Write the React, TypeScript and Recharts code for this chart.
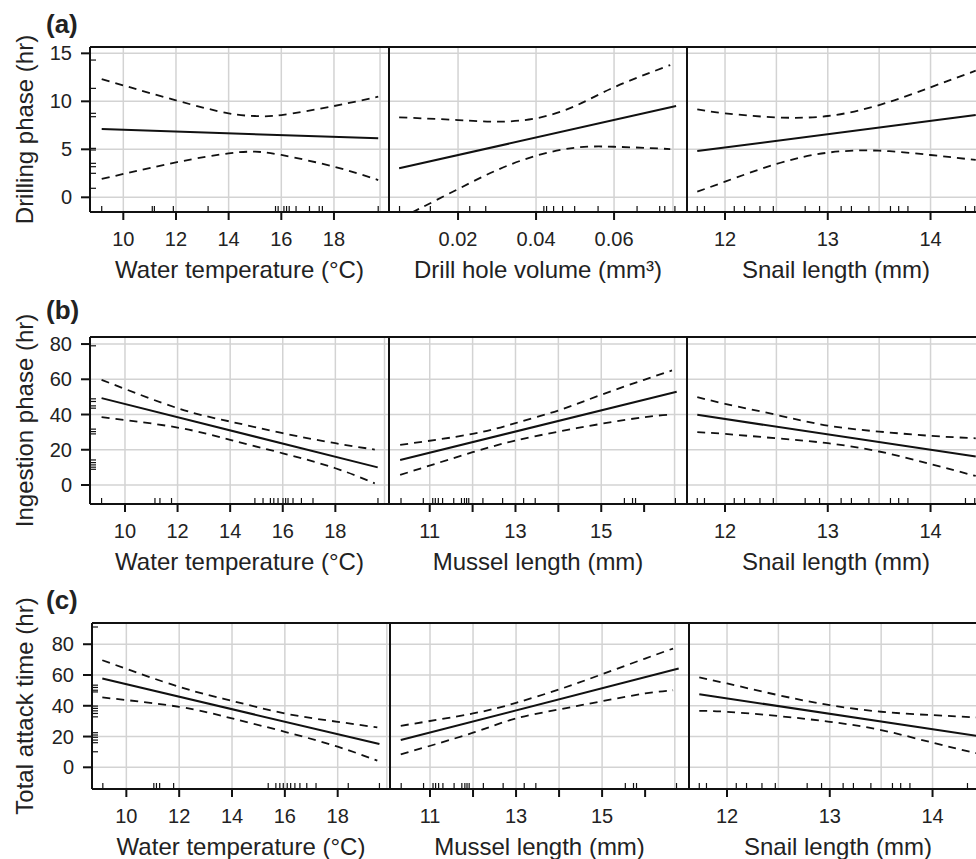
import { ComposedChart, Line, Scatter, XAxis, YAxis, CartesianGrid } from 'recharts';

const INK = '#111';
const TEXT = '#222';
const GRID = '#d3d3d3';
const FONT = '"Liberation Sans", Arial, Helvetica, sans-serif';

type Pair = [number, number];

// ---- (a) drilling phase ----
const drillTempFit: Pair[] = [[9.18, 7.11], [19.68, 6.15]];
const drillTempUpper: Pair[] = [[9.18, 12.32], [12, 10.1], [14, 8.75], [15, 8.47], [16, 8.57], [18, 9.51], [19.68, 10.48]];
const drillTempLower: Pair[] = [[9.18, 1.91], [12, 3.64], [14, 4.58], [15, 4.75], [16, 4.41], [18, 3.19], [19.68, 1.8]];

const drillVolFit: Pair[] = [[0.0049, 3.02], [0.0759, 9.51]];
const drillVolUpper: Pair[] = [[0.0049, 8.33], [0.02, 8.05], [0.03, 7.88], [0.04, 8.23], [0.05, 9.51], [0.06, 11.46], [0.0744, 13.78]];
const drillVolLower: Pair[] = [[0.0049, -2.26], [0.02, 0.86], [0.03, 2.84], [0.04, 4.33], [0.05, 5.17], [0.06, 5.27], [0.0744, 5.03]];

const drillSnailFit: Pair[] = [[11.73, 4.82], [14.44, 8.57]];
const drillSnailUpper: Pair[] = [[11.73, 9.17], [12, 8.75], [12.5, 8.33], [13, 8.47], [13.5, 9.61], [14, 11.46], [14.44, 13.19]];
const drillSnailLower: Pair[] = [[11.73, 0.59], [12, 1.63], [12.5, 3.47], [13, 4.65], [13.5, 4.86], [14, 4.41], [14.44, 3.89]];

// ---- (b) ingestion phase ----
const ingestTempFit: Pair[] = [[9.11, 49.3], [19.61, 10.0]];
const ingestTempUpper: Pair[] = [[9.11, 59.7], [12, 43.6], [14, 36.0], [16, 29.4], [18, 23.7], [19.5, 20.1]];
const ingestTempLower: Pair[] = [[9.11, 38.5], [12, 32.6], [14, 25.6], [16, 18.0], [18, 9.5], [19.5, 0.95]];

const ingestMusselFit: Pair[] = [[10.31, 14.2], [16.76, 52.9]];
const ingestMusselUpper: Pair[] = [[10.31, 22.75], [12, 29.0], [13, 35.1], [14, 42.3], [15, 51.2], [16, 59.7], [16.65, 65.0]];
const ingestMusselLower: Pair[] = [[10.31, 5.7], [12, 18.6], [13, 25.2], [14, 30.3], [15, 34.7], [16, 38.5], [16.65, 40.0]];

const ingestSnailFit: Pair[] = [[11.73, 39.8], [14.44, 16.1]];
const ingestSnailUpper: Pair[] = [[11.73, 49.9], [12, 46.1], [12.5, 39.8], [13, 33.7], [13.5, 30.3], [14, 27.9], [14.44, 26.5]];
const ingestSnailLower: Pair[] = [[11.73, 30.0], [12, 29.0], [12.5, 26.5], [13, 23.7], [13.5, 19.0], [14, 11.9], [14.44, 5.1]];

// ---- (c) total attack time ----
const totalTempFit: Pair[] = [[9.09, 57.7], [19.58, 15.1]];
const totalTempUpper: Pair[] = [[9.09, 69.6], [12, 52.3], [14, 43.2], [16, 35.0], [18, 29.6], [19.5, 25.9]];
const totalTempLower: Pair[] = [[9.09, 45.4], [12, 39.3], [14, 31.8], [16, 23.1], [18, 13.4], [19.5, 4.3]];

const totalMusselFit: Pair[] = [[10.32, 17.7], [16.78, 64.2]];
const totalMusselUpper: Pair[] = [[10.32, 27.0], [12, 35.0], [13, 41.9], [14, 50.6], [15, 60.5], [16, 70.7], [16.65, 77.2]];
const totalMusselLower: Pair[] = [[10.32, 8.4], [12, 22.5], [13, 31.8], [14, 37.6], [15, 43.0], [16, 48.0], [16.65, 50.1]];

const totalSnailFit: Pair[] = [[11.73, 47.5], [14.43, 20.5]];
const totalSnailUpper: Pair[] = [[11.73, 58.4], [12, 54.5], [12.5, 46.9], [13, 40.4], [13.5, 36.1], [14, 33.9], [14.43, 32.4]];
const totalSnailLower: Pair[] = [[11.73, 36.7], [12, 36.1], [12.5, 33.3], [13, 29.6], [13.5, 24.2], [14, 16.0], [14.43, 9.1]];

// ---- rugs (observed values) ----
const tempRugA = [9.18, 11.1, 11.18, 11.9, 13.22, 15.78, 15.88, 16.1, 16.2, 16.3, 16.56, 17.07, 17.44, 17.56, 19.68];
const tempRugB = [9.11, 11.14, 11.33, 11.77, 14.94, 15.25, 15.53, 15.66, 15.82, 16.01, 16.11, 16.2, 16.39, 16.71, 17.15, 19.62];
const tempRugC = [9.11, 11.04, 11.14, 11.26, 11.79, 15.37, 15.66, 15.81, 15.94, 16.09, 16.22, 16.38, 16.57, 16.83, 17.18, 18.4, 19.58];
const volRug = [0.0050, 0.0129, 0.0230, 0.0271, 0.0420, 0.0427, 0.0445, 0.0468, 0.0499, 0.0559, 0.0659, 0.0717, 0.0730, 0.0756];
const musselRug = [10.33, 10.85, 11.07, 11.13, 11.2, 11.3, 11.56, 11.74, 11.81, 11.86, 11.91, 12.24, 12.7, 13.19, 13.46, 15.54, 15.73, 15.8, 16.73];
const snailRug = [11.73, 11.8, 12.09, 12.19, 12.34, 12.47, 12.78, 12.92, 13.13, 13.23, 13.4, 13.61, 13.69, 13.78, 14.34, 14.43];
const drillRug = [14.3, 11.35, 8.75, 8.4, 5.1, 4.93, 3.54, 3.19, 2.5, 0.94];
const ingestRug = [79, 48.9, 47.4, 44.9, 43.6, 31.7, 30.3, 29.0, 14.2, 12.7, 11.4, 10.1, 8.9];
const totalRug = [91.2, 53.4, 51.9, 50.1, 49.0, 39.8, 38.3, 36.7, 35.0, 32.8, 22.5, 21.0, 19.5, 17.7, 16.0, 10.1];

// ---- ticks & grids ----
const tempTicks = [10, 12, 14, 16, 18];
const tempLabels = ['10', '12', '14', '16', '18'];
const volTicks = [0.02, 0.04, 0.06];
const volLabels = ['0.02', '0.04', '0.06'];
const musselTicks = [11, 12, 13, 14, 15, 16];
const musselLabels = ['11', '', '13', '', '15', ''];
const snailTicks = [12, 13, 14];
const snailLabels = ['12', '13', '14'];
const snailGrid = [11.66, 12, 12.5, 13, 13.5, 14];
const drillTicks = [0, 5, 10, 15];
const hourTicks = [0, 20, 40, 60, 80];

const toPts = (p: Pair[]) => p.map(([x, y]) => ({ x, y }));

type PanelSpec = {
  left: number; top: number; w: number; h: number; first: boolean;
  xDomain: [number, number]; yDomain: [number, number];
  xTicks: number[]; xLabels: string[]; xGrid: number[]; yTicks: number[];
  fit: Pair[]; upper: Pair[]; lower: Pair[];
  xRug: number[]; yRug?: number[]; xTitle: string; yTitle?: string;
};

// room above the frame, so the rotated y title and the top tick label are not clipped
const TOP_ROOM = 40;

function Panel(s: PanelSpec) {
  // axes of size 1 px carry the frame lines (size-0 axes are not drawn)
  const yAxisW = s.first ? s.left : 1;
  const mLeft = s.first ? 0 : 1;
  const chartLeft = s.first ? 0 : s.left - 2;
  const width = mLeft + yAxisW + s.w + 2;
  const height = TOP_ROOM + 1 + s.h + 40 + 44;
  const bottomRug = s.xRug.map((x) => ({ x, y: s.yDomain[0] }));
  const leftRug = (s.yRug || []).map((y) => ({ x: s.xDomain[0], y }));
  const frame = { stroke: INK, strokeWidth: 2 };
  return (
    <div style={{ position: 'absolute', left: chartLeft, top: s.top - TOP_ROOM - 1 }}>
      <ComposedChart width={width} height={height} margin={{ top: TOP_ROOM, right: 1, bottom: 44, left: mLeft }}>
        <XAxis
          xAxisId="main" type="number" dataKey="x" domain={s.xDomain} ticks={s.xTicks} allowDataOverflow interval={0}
          tickFormatter={(_v: number, i: number) => s.xLabels[i]}
          height={40} tickSize={8} tickMargin={12}
          tick={{ fontSize: 20, fill: TEXT }} axisLine={frame} tickLine={frame}
          label={{ value: s.xTitle, position: 'bottom', offset: 9, style: { fontSize: 24, fill: TEXT } }}
        />
        <XAxis xAxisId="grid" type="number" dataKey="x" domain={s.xDomain} ticks={s.xGrid} allowDataOverflow hide height={0} />
        <XAxis xAxisId="top" orientation="top" type="number" domain={s.xDomain} allowDataOverflow height={1} tick={false} tickLine={false} axisLine={frame} />
        <YAxis
          yAxisId="main" type="number" dataKey="y" domain={s.yDomain} ticks={s.yTicks} allowDataOverflow interval={0}
          width={yAxisW} tickSize={9} tickMargin={9}
          tick={s.first ? { fontSize: 20, fill: TEXT } : false} tickLine={s.first ? frame : false} axisLine={frame}
          label={s.yTitle ? { value: s.yTitle, angle: -90, position: 'insideLeft', offset: 24, style: { fontSize: 24, fill: TEXT, textAnchor: 'middle' } } : undefined}
        />
        <YAxis yAxisId="grid" type="number" dataKey="y" domain={s.yDomain} ticks={s.yTicks} allowDataOverflow hide width={0} />
        <YAxis yAxisId="right" orientation="right" type="number" domain={s.yDomain} allowDataOverflow width={1} tick={false} tickLine={false} axisLine={frame} />
        <CartesianGrid xAxisId="grid" yAxisId="grid" stroke={GRID} strokeWidth={1.5} />
        <Scatter xAxisId="main" yAxisId="main" data={bottomRug} isAnimationActive={false}
          shape={(p: any) => <line x1={p.cx} x2={p.cx} y1={p.cy} y2={p.cy - 6} stroke={INK} strokeWidth={1.2} />} />
        {leftRug.length > 0 && (
          <Scatter xAxisId="main" yAxisId="main" data={leftRug} isAnimationActive={false}
            shape={(p: any) => <line x1={p.cx} x2={p.cx + 6} y1={p.cy} y2={p.cy} stroke={INK} strokeWidth={1.2} />} />
        )}
        <Line xAxisId="main" yAxisId="main" data={toPts(s.upper)} dataKey="y" type="natural" stroke={INK} strokeWidth={1.8} strokeDasharray="8 6" dot={false} isAnimationActive={false} />
        <Line xAxisId="main" yAxisId="main" data={toPts(s.lower)} dataKey="y" type="natural" stroke={INK} strokeWidth={1.8} strokeDasharray="8 6" dot={false} isAnimationActive={false} />
        <Line xAxisId="main" yAxisId="main" data={toPts(s.fit)} dataKey="y" type="linear" stroke={INK} strokeWidth={2} dot={false} isAnimationActive={false} />
      </ComposedChart>
    </div>
  );
}

const tempTitle = 'Water temperature (\u00B0C)';

const panels: PanelSpec[] = [
  { left: 90, top: 47, w: 299, h: 165, first: true, xDomain: [8.735, 20.09], yDomain: [-1.53, 15.66],
    xTicks: tempTicks, xLabels: tempLabels, xGrid: [10, 12, 14, 16, 18, 19.75], yTicks: drillTicks,
    fit: drillTempFit, upper: drillTempUpper, lower: drillTempLower, xRug: tempRugA, yRug: drillRug,
    xTitle: tempTitle, yTitle: 'Drilling phase (hr)' },
  { left: 389, top: 47, w: 298, h: 165, first: false, xDomain: [0.0023, 0.0787], yDomain: [-1.53, 15.66],
    xTicks: volTicks, xLabels: volLabels, xGrid: [0.02, 0.04, 0.06, 0.0751], yTicks: drillTicks,
    fit: drillVolFit, upper: drillVolUpper, lower: drillVolLower, xRug: volRug, xTitle: 'Drill hole volume (mm\u00B3)' },
  { left: 687, top: 47, w: 298, h: 165, first: false, xDomain: [11.63, 14.53], yDomain: [-1.53, 15.66],
    xTicks: snailTicks, xLabels: snailLabels, xGrid: snailGrid, yTicks: drillTicks,
    fit: drillSnailFit, upper: drillSnailUpper, lower: drillSnailLower, xRug: snailRug, xTitle: 'Snail length (mm)' },

  { left: 90, top: 337, w: 299, h: 167, first: true, xDomain: [8.67, 20.04], yDomain: [-10.8, 84],
    xTicks: tempTicks, xLabels: tempLabels, xGrid: [10, 12, 14, 16, 18, 19.87], yTicks: hourTicks,
    fit: ingestTempFit, upper: ingestTempUpper, lower: ingestTempLower, xRug: tempRugB, yRug: ingestRug,
    xTitle: tempTitle, yTitle: 'Ingestion phase (hr)' },
  { left: 389, top: 337, w: 298, h: 167, first: false, xDomain: [10.05, 17.0], yDomain: [-10.8, 84],
    xTicks: musselTicks, xLabels: musselLabels, xGrid: [11, 12, 13, 14, 15, 16, 16.71], yTicks: hourTicks,
    fit: ingestMusselFit, upper: ingestMusselUpper, lower: ingestMusselLower, xRug: musselRug, xTitle: 'Mussel length (mm)' },
  { left: 687, top: 337, w: 298, h: 167, first: false, xDomain: [11.63, 14.53], yDomain: [-10.8, 84],
    xTicks: snailTicks, xLabels: snailLabels, xGrid: [12, 12.5, 13, 13.5, 14], yTicks: hourTicks,
    fit: ingestSnailFit, upper: ingestSnailUpper, lower: ingestSnailLower, xRug: snailRug, xTitle: 'Snail length (mm)' },

  { left: 92, top: 623, w: 298, h: 166, first: true, xDomain: [8.70, 19.98], yDomain: [-14.1, 93.8],
    xTicks: tempTicks, xLabels: tempLabels, xGrid: [10, 12, 14, 16, 18, 19.86], yTicks: hourTicks,
    fit: totalTempFit, upper: totalTempUpper, lower: totalTempLower, xRug: tempRugC, yRug: totalRug,
    xTitle: tempTitle, yTitle: 'Total attack time (hr)' },
  { left: 390, top: 623, w: 299, h: 166, first: false, xDomain: [10.07, 17.02], yDomain: [-14.1, 93.8],
    xTicks: musselTicks, xLabels: musselLabels, xGrid: [11, 12, 13, 14, 15, 16, 16.69], yTicks: hourTicks,
    fit: totalMusselFit, upper: totalMusselUpper, lower: totalMusselLower, xRug: musselRug, xTitle: 'Mussel length (mm)' },
  { left: 689, top: 623, w: 298, h: 166, first: false, xDomain: [11.63, 14.53], yDomain: [-14.1, 93.8],
    xTicks: snailTicks, xLabels: snailLabels, xGrid: [12, 12.5, 13, 13.5, 14], yTicks: hourTicks,
    fit: totalSnailFit, upper: totalSnailUpper, lower: totalSnailLower, xRug: snailRug, xTitle: 'Snail length (mm)' },
];

const panelTags = [
  { text: '(a)', top: 11 },
  { text: '(b)', top: 297 },
  { text: '(c)', top: 587 },
];

export default function App() {
  return (
    <div style={{ position: 'absolute', left: 0, top: 0, width: 976, height: 859, overflow: 'hidden', background: '#fff', fontFamily: FONT }}>
      {panels.map((p, i) => (
        <Panel key={i} {...p} />
      ))}
      {panelTags.map((t) => (
        <div key={t.text} style={{ position: 'absolute', left: 46, top: t.top, fontSize: 26, lineHeight: '26px', fontWeight: 'bold', color: TEXT }}>
          {t.text}
        </div>
      ))}
    </div>
  );
}
